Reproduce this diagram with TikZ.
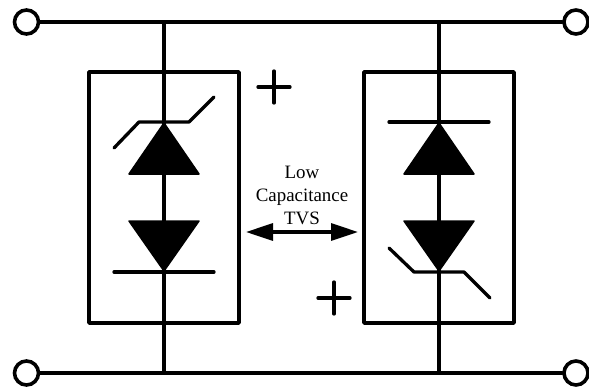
\documentclass[tikz,border=0pt]{standalone}
\usepackage{fontspec}
\setmainfont{Liberation Serif}
\usetikzlibrary{arrows.meta}
\tikzset{
  wire/.style={line width=3.6pt,line cap=round,line join=round},
  bar wire/.style={line width=3.3pt,line cap=round,line join=round},
  terminal/.style={circle,draw,line width=3.6pt,fill=white,minimum size=24pt,inner sep=0pt},
  tvsbox/.style={draw,line width=3.6pt,line join=round,minimum width=150pt,minimum height=251pt,inner sep=0pt},
  diodefill/.style={fill=black,draw=black,line width=1.5pt,line join=round},
  lbl/.style={font=\fontsize{18.9}{23}\selectfont,align=center,inner sep=0pt},
  twoway/.style={line width=3.1pt,{Triangle[length=27pt,width=17pt]}-{Triangle[length=27pt,width=17pt]}}
}
\begin{document}
\begin{tikzpicture}[x=1pt,y=-1pt]
\useasboundingbox (0,0) rectangle (589,386);
\coordinate (t1) at (164,22);
\coordinate (t2) at (439,22);
\coordinate (b1) at (164,373);
\coordinate (b2) at (439,373);
\node[tvsbox] (boxL) at (164,197.5) {};
\node[tvsbox] (boxR) at (439,197.5) {};
\draw[wire] (t1) -- (b1);
\draw[wire] (t2) -- (b2);
\node[terminal] (tl) at (26.5,22) {};
\node[terminal] (tr) at (576,22) {};
\node[terminal] (bl) at (26.5,373) {};
\node[terminal] (br) at (576,373) {};
\draw[wire] (tl) -- (tr);
\draw[wire] (bl) -- (br);
% left branch
\draw[diodefill] (164,123) -- (129,174) -- (199,174) -- cycle;
\draw[diodefill] (164,271) -- (129,221) -- (199,221) -- cycle;
\draw[bar wire] (114,148) -- (139,122) -- (189,122) -- (214,97);
\draw[bar wire] (114,272) -- (214,272);
% right branch
\draw[diodefill] (439,123) -- (404,174) -- (474,174) -- cycle;
\draw[diodefill] (439,271) -- (404,221) -- (474,221) -- cycle;
\draw[bar wire] (389,122) -- (489,122);
\draw[bar wire] (389,248) -- (414,272) -- (464,272) -- (490,298);
% plus signs
\draw[bar wire] (258,87) -- (290,87) (274,71) -- (274,103);
\draw[bar wire] (318,298) -- (350,298) (334,282) -- (334,314);
% label
\node[lbl] (label) at (302,195) {Low\\Capacitance\\TVS};
\coordinate (al) at (246,232);
\coordinate (ar) at (358,232);
\draw[twoway] (al) -- (ar);
\end{tikzpicture}
\end{document}
